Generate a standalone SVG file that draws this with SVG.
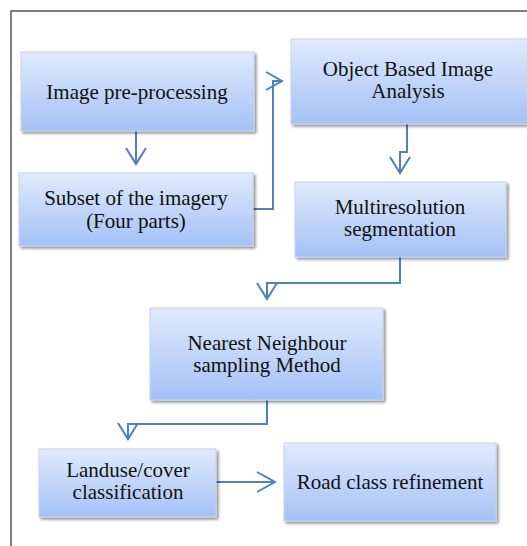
<svg xmlns="http://www.w3.org/2000/svg" width="527" height="546" viewBox="0 0 527 546">
<defs>
<linearGradient id="g" x1="0" y1="0" x2="0" y2="1">
<stop offset="0" stop-color="#e0eafc"/>
<stop offset="1" stop-color="#a4c1f6"/>
</linearGradient>
<filter id="sh" x="-10%" y="-10%" width="125%" height="130%">
<feGaussianBlur in="SourceAlpha" stdDeviation="1.8"/>
<feOffset dx="2" dy="2" result="b"/>
<feComponentTransfer><feFuncA type="linear" slope="0.45"/></feComponentTransfer>
<feMerge><feMergeNode/><feMergeNode in="SourceGraphic"/></feMerge>
</filter>
</defs>
<style>
.box{fill:url(#g);stroke:#c3d3ec;stroke-width:1;filter:url(#sh)}
.t{font-family:"Liberation Serif","Times New Roman",serif;font-size:21px;fill:#111;text-anchor:middle}
.c{fill:none;stroke:#4f81bd;stroke-width:2;stroke-linejoin:miter}
</style>
<rect x="11" y="11" width="540" height="560" fill="#fff" stroke="#555" stroke-width="1.5"/>
<g id="connectors">
<path class="c" d="M136,131 V163"/>
<path class="c" d="M126,148 L136,164 L146,148"/>
<path class="c" d="M253,209 H273 V81 H281"/>
<path class="c" d="M266,72 L282,81 L266,90"/>
<path class="c" d="M407,124 V152 H400 V172"/>
<path class="c" d="M390,157 L400,173 L410,157"/>
<path class="c" d="M400,257 V283 H267 V298"/>
<path class="c" d="M257,283 L267,299 L277,283"/>
<path class="c" d="M267,400 V424 H128 V438"/>
<path class="c" d="M118,423 L128,439 L138,423"/>
<path class="c" d="M216,482 H274"/>
<path class="c" d="M257,472 L275,482 L257,492"/>
</g>
<g id="n1"><rect class="box" x="21" y="52" width="233" height="79"/><text class="t" x="137" y="99">Image pre-processing</text></g>
<g id="n2"><rect class="box" x="291" y="39" width="240" height="85"/><text class="t" x="408" y="76">Object Based Image<tspan x="408" dy="22">Analysis</tspan></text></g>
<g id="n3"><rect class="box" x="19" y="173" width="234" height="73"/><text class="t" x="136" y="205">Subset of the imagery<tspan x="136" dy="23">(Four parts)</tspan></text></g>
<g id="n4"><rect class="box" x="295" y="182" width="211" height="75"/><text class="t" x="400" y="214">Multiresolution<tspan x="400" dy="22">segmentation</tspan></text></g>
<g id="n5"><rect class="box" x="150" y="308" width="233" height="92"/><text class="t" x="267" y="350">Nearest Neighbour<tspan x="267" dy="22">sampling Method</tspan></text></g>
<g id="n6"><rect class="box" x="39" y="449" width="177" height="68"/><text class="t" x="128" y="477">Landuse/cover<tspan x="128" dy="22">classification</tspan></text></g>
<g id="n7"><rect class="box" x="284" y="443" width="212" height="78"/><text class="t" x="390" y="489">Road class refinement</text></g>
</svg>
